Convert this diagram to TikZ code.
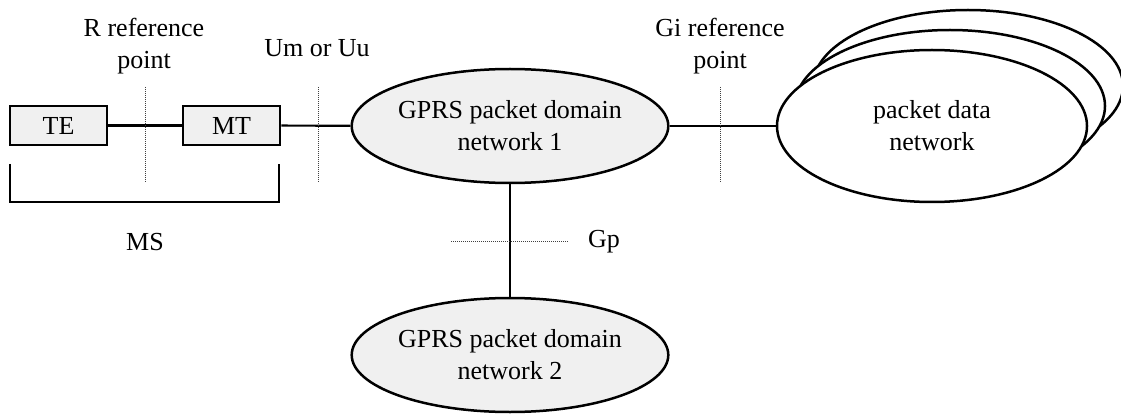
\documentclass[tikz,border=0pt]{standalone}
\usepackage{fontspec}
\setmainfont{Liberation Serif}
\usetikzlibrary{shapes.geometric}
\begin{document}
\begin{tikzpicture}[x=1pt,y=-1pt,
  every node/.style={font=\fontsize{26}{32}\selectfont},
  box/.style={draw,line width=2.5pt,fill=black!6,minimum width=97pt,minimum height=39pt,inner sep=0pt},
  net/.style={draw,line width=2.5pt,ellipse,fill=black!6,minimum width=310pt,minimum height=114pt,inner sep=0pt,align=center},
  pdn/.style={draw,line width=2.5pt,ellipse,fill=white,minimum width=310pt,minimum height=152pt,inner sep=0pt,align=center},
  conn/.style={line width=2.2pt},
  refline/.style={line width=1pt,black!75,dash pattern=on 1pt off 1pt},
  lbl/.style={align=center,inner sep=0pt}]
\useasboundingbox (0,0) rectangle (1121,414);
% packet data networks (back to front)
\node[pdn] (pdn3) at (968,86) {};
\node[pdn] (pdn2) at (950,106) {};
\node[pdn] (pdn) at (932,126) {packet data\\network};
% boxes
\node[box] (te) at (58.5,125.5) {TE};
\node[box] (mt) at (231.5,125.5) {MT};
\node[net] (g1) at (510,126) {GPRS packet domain\\network 1};
\node[net] (g2) at (510,355) {GPRS packet domain\\network 2};
% connectors
\draw[conn] (te) -- (mt);
\draw[conn] (mt) -- (g1);
\draw[conn] (g1) -- (pdn);
\draw[conn] (g1) -- (g2);
% reference points
\coordinate (r1) at (145,87); \coordinate (r2) at (145,182);
\coordinate (u1) at (318,87); \coordinate (u2) at (318,182);
\coordinate (gi1) at (720,87); \coordinate (gi2) at (720,182);
\coordinate (gp1) at (451,241); \coordinate (gp2) at (568,241);
\draw[refline] (r1) -- (r2);
\draw[refline] (u1) -- (u2);
\draw[refline] (gi1) -- (gi2);
\draw[refline] (gp1) -- (gp2);
% MS bracket
\coordinate (b1) at (10,164); \coordinate (b2) at (10,202);
\coordinate (b3) at (279,202); \coordinate (b4) at (279,164);
\draw[line width=1.3pt] (b1) -- (b2) -- (b3) -- (b4);
% labels
\node[lbl] (rlab) at (144,46) {R reference\\point};
\node[lbl] (ulab) at (317,48) {Um or Uu};
\node[lbl] (gilab) at (720,46) {Gi reference\\point};
\node[lbl] (mslab) at (145,242) {MS};
\node[lbl] (gplab) at (604,242) {Gp};
\end{tikzpicture}
\end{document}
